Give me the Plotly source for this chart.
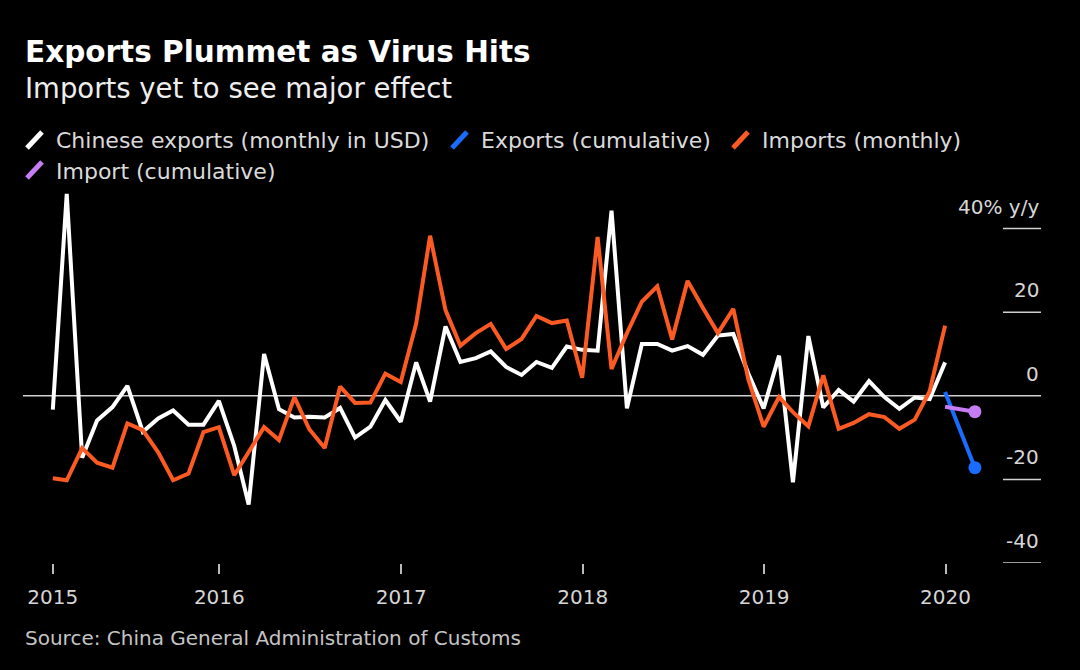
import plotly.graph_objects as go
import pandas as pd

# ---------------- data ----------------
months = pd.date_range("2015-01-01", periods=60, freq="MS") + pd.offsets.MonthEnd(0)

exports_monthly = [
    -3.3, 48.3, -14.8, -5.9, -2.7, 2.4, -8.6, -5.4, -3.5, -6.9, -6.9, -1.2,
    -12.0, -26.0, 10.0, -3.2, -5.2, -5.0, -5.2, -2.9, -10.0, -7.4, -1.0, -6.2,
    8.0, -1.4, 16.6, 8.1, 9.0, 10.6, 6.9, 5.0, 8.1, 6.7, 11.8, 11.0,
    10.8, 44.3, -3.0, 12.4, 12.4, 10.8, 11.9, 9.8, 14.4, 14.8, 5.4, -3.0,
    9.6, -20.7, 14.3, -2.8, 1.4, -1.4, 3.5, -0.3, -3.1, -0.4, -0.8, 8.0,
]
imports_monthly = [
    -19.7, -20.2, -12.5, -16.0, -17.2, -6.6, -8.2, -13.5, -20.2, -18.6, -8.7, -7.5,
    -19.0, -13.5, -7.5, -10.6, -0.3, -8.0, -12.5, 2.2, -1.7, -1.6, 5.3, 3.3,
    17.3, 38.3, 20.5, 12.0, 15.0, 17.2, 11.2, 13.6, 19.1, 17.4, 18.0, 4.3,
    38.0, 6.4, 15.0, 22.5, 26.2, 13.5, 27.5, 21.0, 15.0, 20.8, 4.0, -7.4,
    -0.3, -3.9, -7.3, 4.9, -7.9, -6.5, -4.4, -5.1, -7.9, -5.7, 1.1, 16.8,
]
cum_dates = ["2019-12-31", "2020-02-29"]
exports_cum = [0.9, -17.2]
imports_cum = [-2.6, -3.8]

years = ["2015", "2016", "2017", "2018", "2019", "2020"]
y_ticks = [40, 20, 0, -20, -40]
y_tick_text = ["40% y/y", "20", "0", "-20", "-40"]

series_names = ["Chinese exports (monthly in USD)", "Exports (cumulative)",
                "Imports (monthly)", "Import (cumulative)"]

# ---------------- style ----------------
WHITE = "#ffffff"
BLUE = "#1a6cff"
ORANGE = "#fb5a22"
PURPLE = "#c67cf2"
FONT = "DejaVu Sans"
LW = 4

# plot-area pixel geometry
L, R, T, B = 23, 1041, 191, 563


def pxx(x):
    return (x - L) / (R - L)


def pxy(y):
    return (B - y) / (B - T)


fig = go.Figure()
fig.add_trace(go.Scatter(x=months, y=exports_monthly, mode="lines",
                         line=dict(color=WHITE, width=LW), name=series_names[0]))
fig.add_trace(go.Scatter(x=cum_dates, y=exports_cum, mode="lines",
                         line=dict(color=BLUE, width=LW), name=series_names[1]))
fig.add_trace(go.Scatter(x=cum_dates[-1:], y=exports_cum[-1:], mode="markers",
                         marker=dict(size=13, color=BLUE, opacity=1, line=dict(width=0)),
                         showlegend=False))
fig.add_trace(go.Scatter(x=months, y=imports_monthly, mode="lines",
                         line=dict(color=ORANGE, width=LW), name=series_names[2]))
fig.add_trace(go.Scatter(x=cum_dates, y=imports_cum, mode="lines",
                         line=dict(color=PURPLE, width=LW), name=series_names[3]))
fig.add_trace(go.Scatter(x=cum_dates[-1:], y=imports_cum[-1:], mode="markers",
                         marker=dict(size=13, color=PURPLE, opacity=1, line=dict(width=0)),
                         showlegend=False))

shapes = []
# zero line across the whole plot
shapes.append(dict(type="line", xref="paper", x0=0, x1=1, yref="y", y0=0, y1=0,
                   line=dict(color="#d0d0d0", width=1.5), layer="below"))
# short grid stubs on the right
for v in y_ticks:
    if v == 0:
        continue
    shapes.append(dict(type="line", xref="paper", x0=pxx(1003), x1=1, yref="y", y0=v, y1=v,
                       line=dict(color="#d0d0d0", width=1.5), layer="below"))

annotations = []
for v, t in zip(y_ticks, y_tick_text):
    annotations.append(dict(text=t, xref="paper", x=1, xanchor="right", yref="y", y=v,
                            yanchor="bottom", yshift=8, showarrow=False,
                            font=dict(family=FONT, size=20, color="#d6d6d6")))

# title, subtitle, source
annotations.append(dict(text="<b>Exports Plummet as Virus Hits</b>", xref="paper", x=0,
                        xanchor="left", yref="paper", y=pxy(52), yanchor="middle",
                        showarrow=False, font=dict(family=FONT, size=29.5, color="#ffffff")))
annotations.append(dict(text="Imports yet to see major effect", xref="paper", x=0,
                        xanchor="left", yref="paper", y=pxy(88), yanchor="middle",
                        showarrow=False, font=dict(family=FONT, size=27.5, color="#eeeeee")))
annotations.append(dict(text="Source: China General Administration of Customs", xref="paper",
                        x=0, xanchor="left", yref="paper", y=pxy(638), yanchor="middle",
                        showarrow=False, font=dict(family=FONT, size=20, color="#c4c4c4")))

# custom legend: slanted stroke + label
legend_colors = [WHITE, BLUE, ORANGE, PURPLE]
legend_text_x = [55, 480, 761, 55]
legend_row_y = [140, 140, 140, 170]
for name, col, tx, ty in zip(series_names, legend_colors, legend_text_x, legend_row_y):
    shapes.append(dict(type="line", xref="paper", yref="paper",
                       x0=pxx(tx - 28), y0=pxy(ty + 8), x1=pxx(tx - 13), y1=pxy(ty - 8),
                       line=dict(color=col, width=5)))
    annotations.append(dict(text=name, xref="paper", x=pxx(tx - 1), xanchor="left",
                            yref="paper", y=pxy(ty + 1), yanchor="middle", showarrow=False,
                            font=dict(family=FONT, size=22, color="#dadada")))

tickvals = [months[0]] + [pd.Timestamp(f"{y}-01-01") for y in years[1:]]

fig.update_layout(
    width=1080, height=670,
    margin=dict(l=L, r=1080 - R, t=T, b=670 - B),
    paper_bgcolor="black", plot_bgcolor="black",
    showlegend=False,
    font=dict(family=FONT, color="#d6d6d6"),
    shapes=shapes, annotations=annotations,
    xaxis=dict(type="date", range=["2014-12-02", "2020-07-11"], showgrid=False,
               zeroline=False, showline=False, ticks="outside", ticklen=10,
               tickwidth=1.5, tickcolor="#bbbbbb", tickvals=tickvals, ticktext=years,
               ticklabelstandoff=6,
               tickfont=dict(family=FONT, size=20, color="#d6d6d6")),
    yaxis=dict(range=[-40, 49], showgrid=False, zeroline=False, showline=False,
               showticklabels=False, ticks=""),
)

fig.write_html("out.html", config={"displayModeBar": False},
               post_script="document.body.style.margin='0';")
